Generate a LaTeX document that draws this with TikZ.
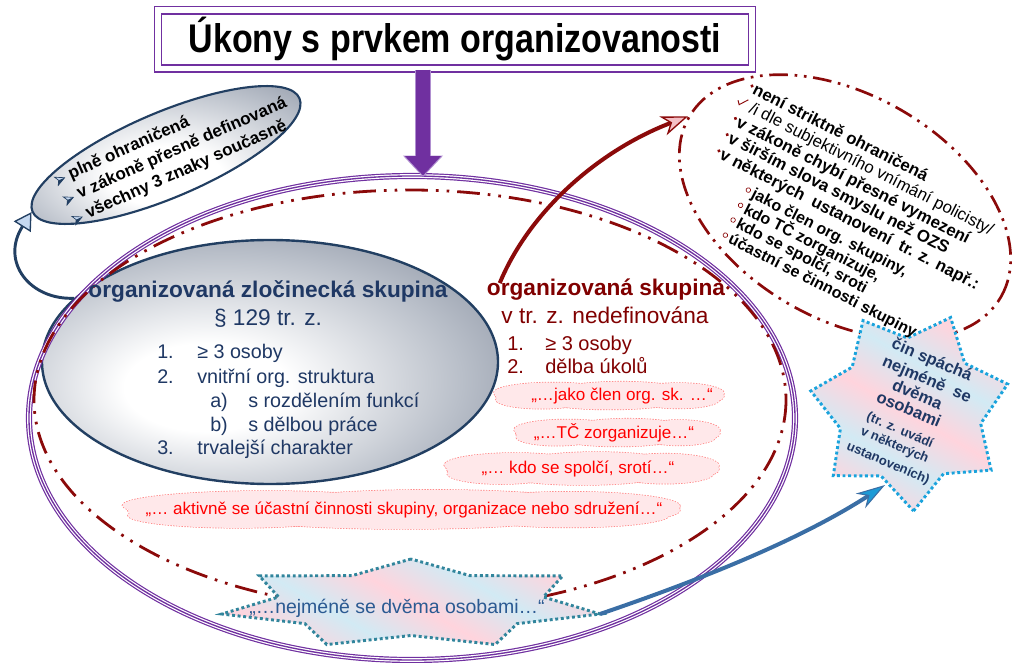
\documentclass[tikz,border=0pt]{standalone}
\usepackage{fontspec}
\setmainfont{Liberation Sans}
\usetikzlibrary{shapes.geometric,arrows.meta,calc}
\definecolor{pur}{HTML}{7030A0}
\definecolor{purl}{HTML}{B08FD0}
\definecolor{dred}{HTML}{8B0A0A}
\definecolor{mar}{HTML}{800000}
\definecolor{nvy}{HTML}{1F3864}
\definecolor{nvyb}{HTML}{223F62}
\definecolor{cfill}{HTML}{FFE8EA}
\definecolor{cline}{HTML}{FF8080}
\definecolor{pk}{HTML}{FFD4DD}
\definecolor{lb}{HTML}{D2EAF4}
\definecolor{sline}{HTML}{1AA3DC}
\definecolor{tl}{HTML}{31859C}
\definecolor{ablue}{HTML}{3A6EA5}
\definecolor{hblue}{HTML}{1C9AD6}
\definecolor{ltb}{HTML}{C6D9F1}
\definecolor{gA}{HTML}{B9BFC9}
\definecolor{gB}{HTML}{667084}
\definecolor{gC}{HTML}{4A5468}
\definecolor{btx}{HTML}{2B5A92}
\definecolor{pkh}{HTML}{F4C0C6}
\pgfdeclareradialshading{grayell}{\pgfpoint{-8bp}{-6bp}}{color(0bp)=(white); color(9bp)=(white); color(26bp)=(gA); color(46bp)=(gB); color(70bp)=(gC)}
\pgfdeclareradialshading{grayelltwo}{\pgfpoint{0bp}{-10bp}}{color(0bp)=(white); color(10bp)=(white); color(28bp)=(gA); color(50bp)=(gB); color(70bp)=(gC)}
\pgfdeclarehorizontalshading{stripes}{100bp}{color(0bp)=(pk); color(12.5bp)=(lb); color(25bp)=(pk); color(37.5bp)=(lb); color(50bp)=(pk); color(62.5bp)=(lb); color(75bp)=(pk); color(87.5bp)=(lb); color(100bp)=(pk)}
\newcommand\fsz[2]{\fontsize{#1}{#2}\selectfont}
\newcommand\puffset{-0.25/-0.12/0.26/0.38, 0.05/-0.18/0.28/0.35, 0.30/-0.10/0.20/0.38, -0.30/0.14/0.20/0.33, 0.00/0.16/0.30/0.34, 0.30/0.14/0.18/0.32, -0.44/0.02/0.06/0.22, 0.44/0.0/0.06/0.22}
\newcommand\cloudpuffs[4]{%
  \foreach \dx/\dy/\rx/\ry in \puffset {\draw[cline, densely dotted, line width=1.1pt] ({#1+\dx*#3},{#2+\dy*#4}) ellipse [x radius={\rx*#3}, y radius={\ry*#4}];}
  \foreach \dx/\dy/\rx/\ry in \puffset {\fill[cfill] ({#1+\dx*#3},{#2+\dy*#4}) ellipse [x radius={\rx*#3}, y radius={\ry*#4}];}
}
\tikzset{
  tripleline/.style={draw=pur, line width=1pt, preaction={draw=pur, line width=4.6pt}, preaction={draw=white, line width=2.8pt}},
  dddbig/.style={draw=dred, line width=2.1pt, dash pattern=on 17pt off 6pt on 2pt off 6pt on 2pt off 6pt},
  dddsmall/.style={draw=dred, line width=2pt, dash pattern=on 14pt off 5pt on 2pt off 5pt on 2pt off 5pt},
  cloudbox/.style={inner sep=0pt},
  cloudtxt/.style={text=red, font=\fsz{12.8}{14}, inner sep=0pt},
  ozsnum/.style={anchor=base west, text=nvy, font=\fsz{14.8}{17}, inner sep=0pt},
  osnum/.style={anchor=base west, text=mar, font=\fsz{15}{17}, inner sep=0pt},
  lline/.style={anchor=base west, inner sep=0pt, font=\bfseries\fsz{12.8}{14}},
  rline/.style={anchor=base west, inner sep=0pt, font=\bfseries\fsz{12.6}{14}},
  rsub/.style={anchor=base west, inner sep=0pt, font=\bfseries\fsz{12}{14}},
  stline/.style={anchor=base, inner sep=0pt, text=nvy, font=\bfseries\fsz{12.4}{14}},
  stsmall/.style={anchor=base, inner sep=0pt, text=nvy, font=\bfseries\fsz{9.8}{11}},
  stardot/.style={line width=2.2pt, dash pattern=on 2.2pt off 2pt},
  bulletsty/.style={fill=ltb, draw=nvyb, line width=0.5pt},
}
\begin{document}
\begin{tikzpicture}[x=0.75pt,y=-0.75pt]
\useasboundingbox (0,0) rectangle (1025,663);

% inner gray ellipse
\node[ellipse, draw=nvyb, line width=1.8pt, shade, shading=grayell, minimum width=342pt, minimum height=183pt, inner sep=0pt] (ozs) at (270,362) {};

% big purple ellipse
\path[tripleline] (412,418) ellipse [x radius=383, y radius=242];
\coordinate (bigtop) at (423,177);
% big red dash-dot ellipse
\path[dddbig] (410,400) ellipse [x radius=376, y radius=210];

% top-left oval
\node[ellipse, draw=nvyb, line width=1.6pt, shade, shading=grayelltwo, minimum width=217.5pt, minimum height=64pt, inner sep=0pt, rotate=23] (oval) at (166,155) {};

% right dash-dot ellipse
\node[ellipse, dddsmall, minimum width=270pt, minimum height=168pt, inner sep=0pt, rotate=-30] (rell) at (845,207) {};

% clouds
\cloudpuffs{610}{396}{228}{27}
\node[cloudbox, minimum width=171pt, minimum height=20pt] (c1) at (610,396) {};
\node[cloudtxt] (c1t) at ($(c1)+(12,0)$) {„…jako člen org. sk. …“};
\cloudpuffs{618}{433}{204}{27}
\node[cloudbox, minimum width=153pt, minimum height=20pt] (c2) at (618,433) {};
\node[cloudtxt] (c2t) at ($(c2)+(-4,0)$) {„…TČ zorganizuje…“};
\cloudpuffs{583}{469}{272}{32}
\node[cloudbox, minimum width=204pt, minimum height=24pt] (c3) at (583,469) {};
\node[cloudtxt] (c3t) at ($(c3)+(-5,0)$) {„… kdo se spolčí, srotí…“};
\cloudpuffs{404}{510}{552}{38}
\node[cloudbox, minimum width=414pt, minimum height=28.5pt] (c4) at (404,510) {};
\node[cloudtxt] (c4t) at (c4) {„… aktivně se účastní činnosti skupiny, organizace nebo sdružení…“};

% bottom star
\shadedraw[shading=stripes, shading angle=60, draw=tl, stardot] plot[samples at={0,...,13}, variable=\k] ({411+194*(0.85+0.15*cos(180*\k))*cos(90+25.714*\k)}, {604-45*(0.85+0.15*cos(180*\k))*sin(90+25.714*\k)}) -- cycle;
\coordinate (bsR) at (600,614);
\node[anchor=base, text=btx, font=\fsz{14.6}{16}, inner sep=0pt] (bsT) at (397,613) {„…nejméně se dvěma osobami…“};

% right star
\shadedraw[shading=stripes, shading angle=60, draw=sline, stardot] plot[samples at={0,...,13}, variable=\k] ({910+(86.5+14.5*cos(180*\k))*cos(-88+25.714*\k)}, {410-(86.5+14.5*cos(180*\k))*sin(-88+25.714*\k)}) -- cycle;
\coordinate (rsTip) at (885,485);
\begin{scope}[shift={(932,360)}, rotate=-23, transform shape]
\node[stline] (s1) at (0,5) {čin spáchá};
\node[stline] (s2) at (3,25) {nejméně\ \ se};
\node[stline] (s3) at (0,43) {dvěma};
\node[stline] (s4) at (-2,60) {osobami};
\node[stsmall] (s5) at (-2,81) {(tr. z. uvádí};
\node[stsmall] (s6) at (-1,97) {v některých};
\node[stsmall] (s7) at (0,116) {ustanoveních)};
\end{scope}

% title
\node[draw=pur, line width=1.3pt, double=white, double distance=4pt, minimum width=445.5pt, minimum height=44pt, inner sep=0pt] (title) at (455,39.5) {\scalebox{0.85}[1]{\bfseries\fsz{30}{32}Úkony s prvkem organizovanosti}};
\draw[purl, line width=12pt, -{Triangle[length=16pt, width=29pt]}] (bigtop |- title.south) -- (bigtop);
\draw[pur, line width=10pt, -{Triangle[length=14.5pt, width=26pt]}] (bigtop |- title.south) -- ($(bigtop)+(0,-1.5)$);

% OZS texts
\node[anchor=base, text=nvy, font=\bfseries\fsz{17}{20}, inner sep=0pt] (ozsT) at (268,297) {organizovaná zločinecká skupina};
\node[anchor=base, text=nvy, font=\fsz{17}{20}, inner sep=0pt] (ozsP) at (268,325) {§ 129 tr. z.};
\node[ozsnum] (n1) at (157,358) {1.};
\node[ozsnum] (t1) at (197,358) {≥ 3 osoby};
\node[ozsnum] (n2) at (157,383) {2.};
\node[ozsnum] (t2) at (197,383) {vnitřní org. struktura};
\node[ozsnum] (na) at (210,407) {a)};
\node[ozsnum] (ta) at (248,407) {s rozdělením funkcí};
\node[ozsnum] (nb) at (210,431) {b)};
\node[ozsnum] (tb) at (248,431) {s dělbou práce};
\node[ozsnum] (n3) at (157,454) {3.};
\node[ozsnum] (t3) at (197,454) {trvalejší charakter};

% OS texts
\node[anchor=base, text=mar, font=\bfseries\fsz{17}{20}, inner sep=0pt] (os) at (606,295) {organizovaná skupina};
\node[anchor=base, text=mar, font=\fsz{17}{20}, inner sep=0pt] (osP) at (605,323) {v tr. z. nedefinována};
\node[osnum] (m1) at (507,350) {1.};
\node[osnum] (u1) at (545,350) {≥ 3 osoby};
\node[osnum] (m2) at (507,373) {2.};
\node[osnum] (u2) at (545,373) {dělba úkolů};

% oval texts
\begin{scope}[shift={(58,185)}, rotate=24, transform shape]
\foreach \v in {0,21.5,43} {
  \filldraw[bulletsty, shift={(4,\v-4)}] (-4,-4.5) -- (5,0) -- (-4,4.5) -- (-1.5,0) -- cycle;
  \fill[nvyb, shift={(4,\v-4)}] (-1.5,0) -- (5,0) -- (-4,4.5) -- cycle;
}
\node[lline] (l1) at (14,0) {plně ohraničená};
\node[lline] (l2) at (14,21.5) {v zákoně přesně definovaná};
\node[lline] (l3) at (14,43) {všechny 3 znaky současně};
\end{scope}

% right ellipse texts
\begin{scope}[shift={(752,86)}, rotate=-27, transform shape]
\foreach \v in {0,36.4,54.6,72.8} { \fill[dred] (0,\v) circle[radius=1.8]; }
\draw[dred, line width=0.7pt] (-6,19) -- (-3,22.5) -- (3,14);
\foreach \v in {94.4,111.5,128,145} { \draw[dred, line width=0.5pt] (44,\v) circle[radius=2.3]; }
\node[rline] (r1) at (3,7) {není striktně ohraničená};
\node[rline, font=\fsz{12.6}{14}] (r2) at (8,25) {/i dle subjektivního vnímání policisty/};
\node[rline] (r3) at (3,43.5) {v zákoně chybí přesné vymezení};
\node[rline] (r4) at (3,61.5) {v širším slova smyslu než OZS};
\node[rline] (r5) at (3,80) {v některých\ \ ustanovení\ \ tr. z. např.:};
\node[rsub] (r6) at (49,100.5) {jako člen org. skupiny,};
\node[rsub] (r7) at (49,117.5) {kdo TČ zorganizuje,};
\node[rsub] (r8) at (49,134) {kdo se spolčí, sroti};
\node[rsub] (r9) at (49,151) {účastní se činnosti skupiny};
\end{scope}

% arrows
\draw[nvyb, line width=2.2pt, -{Triangle[length=13pt, width=15pt, fill=ltb, line width=1pt]}] (ozs.162) .. controls (30,300) and (0,262) .. (oval.west);
\draw[dred, line width=3pt, -{Stealth[length=20pt, width=15pt, inset=6pt, fill=pkh, line width=1pt]}] ($(os.north west)+(13,5)$) .. controls (530,210) and (600,150) .. (rell.west);
\draw[ablue, line width=3pt, -{Stealth[length=22pt, width=13pt, inset=7pt, fill=hblue, line width=0.8pt]}] (bsR) .. controls (700,580) and (800,540) .. (rsTip);
\end{tikzpicture}
\end{document}
